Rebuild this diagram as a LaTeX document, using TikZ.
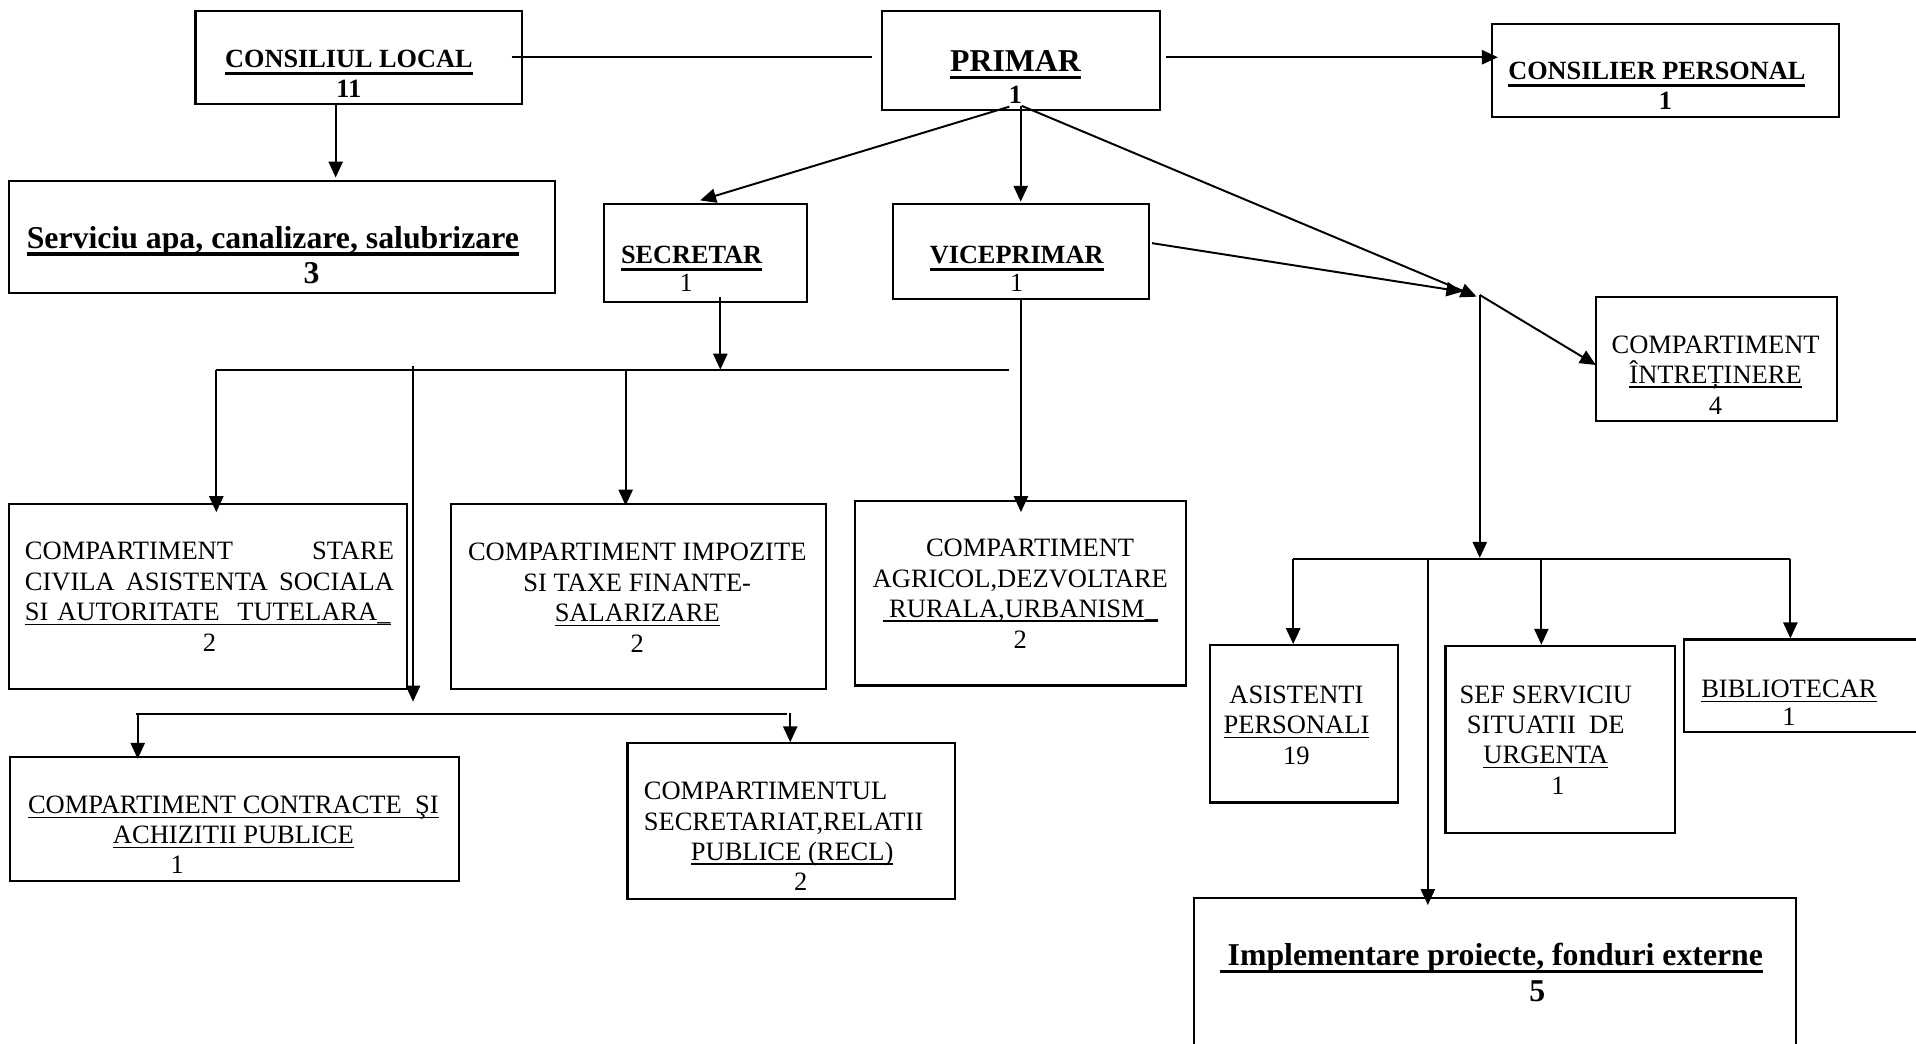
\documentclass[tikz,border=0pt]{standalone}
\usepackage{fontspec}
\setmainfont{Liberation Serif}
\usetikzlibrary{arrows.meta,fit,calc}
\newsavebox\ulbox
\newcommand\ru[1]{\leavevmode\sbox\ulbox{#1}\rlap{\rule[-1.75pt]{\wd\ulbox}{0.6pt}}\usebox\ulbox}
\newcommand\bu[1]{\leavevmode\sbox\ulbox{#1}\rlap{\rule[-3.1pt]{\wd\ulbox}{1.35pt}}\usebox\ulbox}
\tikzset{
  box/.style={draw, line width=0.9pt, inner sep=0pt, rectangle},
  ln/.style={line width=0.8pt},
  arr/.style={line width=0.8pt, -{Triangle[length=6.5pt,width=5.8pt]}},
  txt/.style={inner sep=0pt, anchor=base, align=center, font=\fontsize{10.85}{12.5}\selectfont},
  btxt/.style={txt, font=\bfseries\fontsize{10.75}{12.3}\selectfont},
  bigtxt/.style={txt, font=\bfseries\fontsize{13}{14.7}\selectfont}
}
\begin{document}
\begin{tikzpicture}[x=0.5pt,y=-0.5pt]
\useasboundingbox (0,0) rectangle (1568,854);
\clip (0,0) rectangle (1568,854);
% boxes
\node[box, fit={(160,8.7)(427,85)}] (cl) {};
\node[box, fit={(722,8.7)(949,90)}] (primar) {};
\node[box, fit={(1221,19.6)(1505,95.5)}] (cp) {};
\node[box, fit={(7.3,148)(454.5,240)}] (serv) {};
\node[box, fit={(494,167.2)(660.4,247.2)}] (sec) {};
\node[box, fit={(731,167.2)(940,244.7)}] (vp) {};
\node[box, fit={(1305.8,242.8)(1503.4,344.3)}] (ci) {};
\node[box, fit={(7.3,412.4)(333,563.8)}] (csc) {};
\node[box, fit={(369,412.4)(675.7,564)}] (cit) {};
\node[box, fit={(700,410)(970.6,561)}] (ca) {};
\node[box, fit={(8,619.2)(375.8,721)}] (ccap) {};
\node[box, fit={(513.5,608.3)(781.6,735.7)}] (csrp) {};
\node[box, fit={(990.5,528)(1144,656.8)}] (ap) {};
\node[box, fit={(1183,528.5)(1371,681.4)}] (sef) {};
\node[box, fit={(1378.4,523.3)(1580,599)}] (bib) {};
\node[box, fit={(977,734.6)(1470,880)}] (imp) {};
% texts (base anchor = baseline of the last line)
\node[btxt] (cl-t) at (285.5,80) {\bu{CONSILIUL LOCAL}\\11};
\node[btxt, font=\bfseries\fontsize{10.75}{13}\selectfont] (pr-t) at (831,84.6) {{\fontsize{13}{15}\selectfont\bu{PRIMAR}}\\1};
\node[btxt] (cp-t) at (1355.9,90) {\bu{CONSILIER PERSONAL}\\\hspace*{7pt}1};
\node[bigtxt] (serv-t) at (223.3,232.4) {\bu{Serviciu apa, canalizare, salubrizare}\\\hspace*{31.7pt}3};
\node[btxt, font=\bfseries\fontsize{10.75}{11.6}\selectfont] (sec-t) at (566,238.7) {\bu{SECRETAR}\\{\mdseries 1}\hspace*{4.5pt}};
\node[btxt, font=\bfseries\fontsize{10.75}{11.6}\selectfont] (vp-t) at (832,238.7) {\bu{VICEPRIMAR}\\{\mdseries 1}};
\node[txt] (ci-t) at (1404,339) {COMPARTIMENT\\\ru{ÎNTREȚINERE}\\4};
\node[txt, align=left, anchor=base west, text width=151pt] (csc-t) at (20,458)
  {\makebox[151pt]{COMPARTIMENT\hfill STARE}\\\makebox[151pt]{CIVILA\hfill ASISTENTA\hfill SOCIALA}\\\ru{SI AUTORITATE\ \ TUTELARA\_}\\\makebox[151pt]{2}};
\node[txt] (cit-t) at (521.5,534) {COMPARTIMENT IMPOZITE\\SI TAXE FINANTE-\\\ru{SALARIZARE}\\2};
\node[txt] (ca-t) at (835,530.5) {\hspace*{8pt}COMPARTIMENT\\AGRICOL,DEZVOLTARE\\\ru{\ RURALA,URBANISM\_}\\2};
\node[txt, font=\fontsize{10.85}{12.25}\selectfont] (ccap-t) at (191,715) {\ru{COMPARTIMENT CONTRACTE\ \ ŞI}\\\ru{ACHIZITII PUBLICE}\\1\hspace*{46pt}};
\node[txt, align=left, anchor=base west, font=\fontsize{10.85}{12.4}\selectfont] (csrp-t) at (526.5,729) {COMPARTIMENTUL\\SECRETARIAT,RELATII\\\hspace*{19.25pt}\ru{PUBLICE (RECL)}\\\hspace*{61.5pt}2};
\node[txt, font=\fontsize{10.85}{12.4}\selectfont] (ap-t) at (1061,625.4) {ASISTENTI\\\ru{PERSONALI}\\19};
\node[txt, font=\fontsize{10.85}{12.4}\selectfont] (sef-t) at (1265,650) {SEF SERVICIU\\SITUATII\ \ DE\\\ru{URGENTA}\\\hspace*{10pt}1};
\node[txt, font=\fontsize{10.85}{11.5}\selectfont] (bib-t) at (1464,594) {\ru{BIBLIOTECAR}\\1};
\node[bigtxt, font=\bfseries\fontsize{13}{15}\selectfont] (imp-t) at (1220.5,820) {\bu{\ Implementare proiecte, fonduri externe}\\\hspace*{37.5pt}5};
% junction coordinates
\coordinate (clS) at (274.7,85);
\coordinate (pS1) at (826,87.3);
\coordinate (pS2) at (835.3,86.7);
\coordinate (pS3) at (836.3,86.7);
\coordinate (secT) at (573,164);
\coordinate (jA) at (1208.4,242.8);
\coordinate (vpR) at (942.8,199);
\coordinate (jB) at (1196.7,238.7);
\coordinate (j) at (1211,241.4);
\coordinate (ciT) at (1306,298.7);
\coordinate (jBus) at (1211,456.5);
\coordinate (rb1) at (1058.3,457.5);
\coordinate (rb2) at (1465.2,457.5);
\coordinate (rbA) at (1168.5,457.5);
\coordinate (rbS) at (1261.4,457.5);
\coordinate (secB) at (589.5,243);
\coordinate (lb1) at (177,302.5);
\coordinate (lb2) at (826,302.5);
\coordinate (lbI) at (512,302.5);
\coordinate (secBus) at (589.5,302.5);
\coordinate (vpB) at (835.5,243.5);
\coordinate (vx) at (338,299.5);
\coordinate (vxE) at (338,574.2);
\coordinate (db1) at (111.5,584.5);
\coordinate (db2) at (644,584.5);
\coordinate (dbL) at (112.7,584.5);
\coordinate (dbR) at (646.7,583.7);
% connectors
\draw[ln, shorten <=-4.5pt, shorten >=3.65pt] (cl.east) -- (cl.east -| primar.west);
\draw[arr, shorten <=2pt, shorten >=-2.85pt] (cl.east -| primar.east) -- (cl.east -| cp.west);
\draw[arr, shorten >=0.9pt] (clS) -- (clS |- serv.north);
\draw[arr] (pS1) -- (secT);
\draw[arr, shorten >=0.6pt] (pS2) -- (pS2 |- vp.north);
\draw[arr] (pS3) -- (jA);
\draw[arr] (vpR) -- (jB);
\draw[arr] (j) -- (ciT);
\draw[arr] (j) -- (jBus);
\draw[ln] (rb1) -- (rb2);
\draw[arr] (rb1) -- (rb1 |- ap.north);
\draw[arr] (rbS) -- (rbS |- sef.north);
\draw[arr] (rb2) -- (rb2 |- bib.north);
\draw[arr, line width=0.7pt, shorten >=-3.5pt] (rbA) -- (rbA |- imp.north);
\draw[arr] (secB) -- (secBus);
\draw[ln] (lb1) -- (lb2);
\draw[arr, shorten >=-3.8pt] (lb1) -- (lb1 |- csc.north);
\draw[arr, shorten >=-1.1pt] (lbI) -- (lbI |- cit.north);
\draw[arr, shorten >=-5pt] (vpB) -- (vpB |- ca.north);
\draw[arr, line width=0.7pt] (vx) -- (vxE);
\draw[ln, line width=0.7pt] (db1) -- (db2);
\draw[arr, shorten >=-1.35pt] (dbL) -- (dbL |- ccap.north);
\draw[arr] (dbR) -- (dbR |- csrp.north);
\end{tikzpicture}
\end{document}
